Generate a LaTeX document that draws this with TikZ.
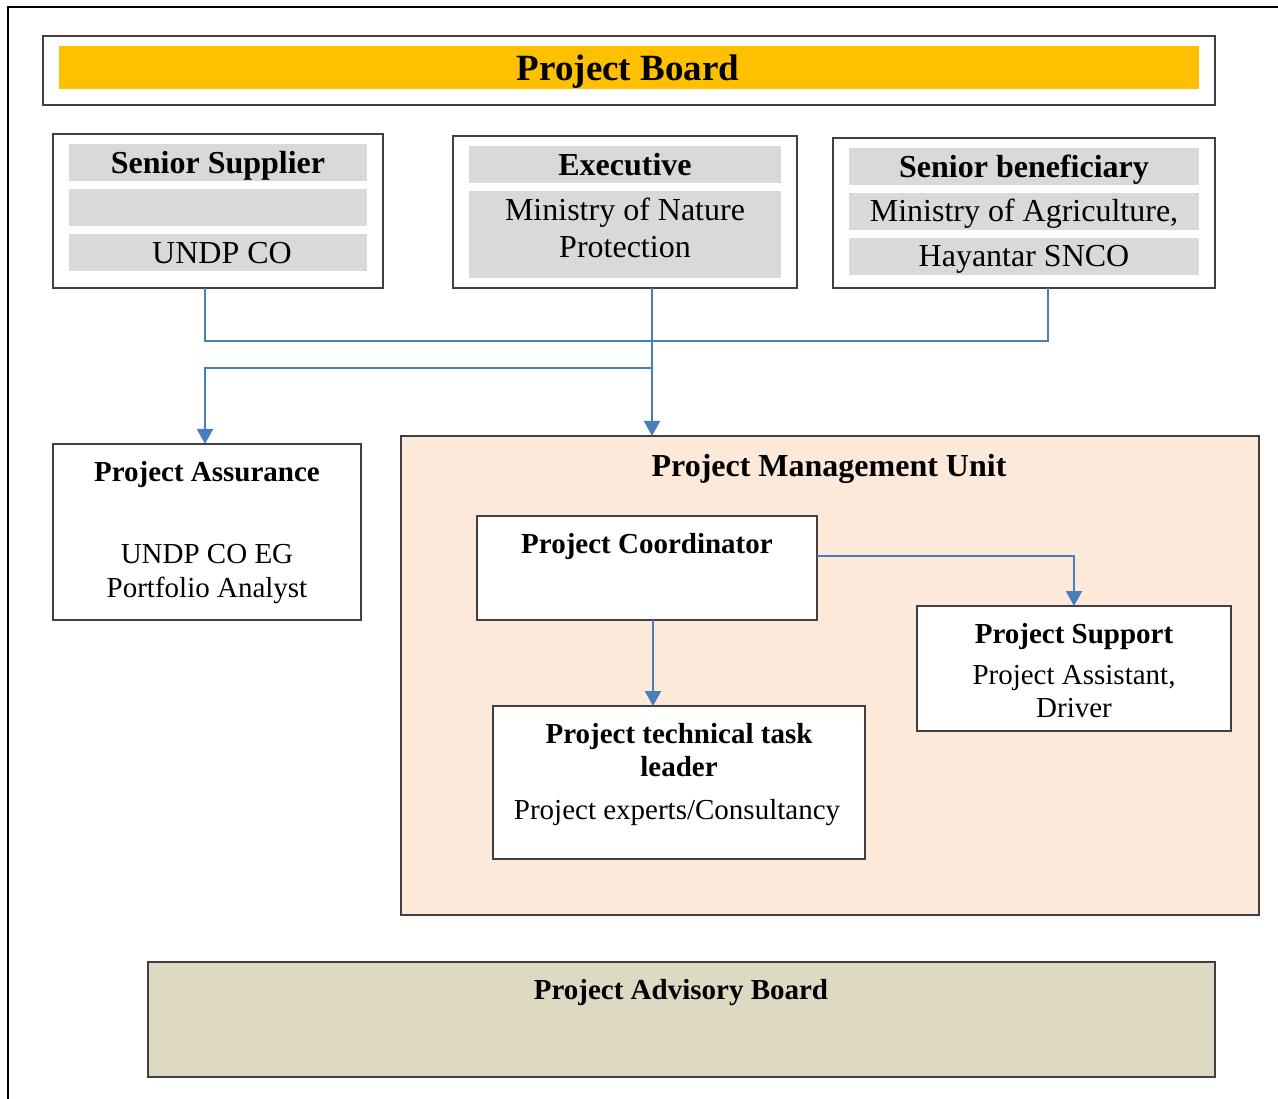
\documentclass[tikz,border=0pt]{standalone}
\usepackage{fontspec}
\setmainfont{Liberation Serif}
\usetikzlibrary{arrows.meta}
\definecolor{gold}{HTML}{FFC000}
\definecolor{band}{HTML}{D9D9D9}
\definecolor{pmufill}{HTML}{FDE9D9}
\definecolor{advfill}{HTML}{DDD9C3}
\definecolor{conncol}{HTML}{4A7EBB}
\definecolor{edge}{HTML}{404040}
\tikzset{
  box/.style={draw=edge, line width=1.4pt, fill=white, inner sep=0pt, outer sep=0pt},
  bandbox/.style={fill=band, draw=none, inner sep=0pt, outer sep=0pt},
  big/.style={font=\fontsize{32}{37}\selectfont, yshift=-10.6pt},
  bigb/.style={font=\fontsize{32}{37}\selectfont\bfseries, yshift=-10.6pt},
  mid/.style={font=\fontsize{29}{34}\selectfont, yshift=-9.6pt},
  midb/.style={font=\fontsize{29}{33}\selectfont\bfseries, yshift=-9.6pt},
  huge/.style={font=\fontsize{37}{40}\selectfont\bfseries, yshift=-12.2pt},
  lbl/.style={inner sep=0pt, anchor=base},
  conn/.style={draw=conncol, line width=2pt},
  tip/.style={-{Triangle[width=16pt,length=15pt]}}
}
\begin{document}
\begin{tikzpicture}[x=1pt,y=-1pt]
\useasboundingbox (0,0) rectangle (1278,1099);
% outer frame (cut at right and bottom)
\draw[line width=2pt] (8,1100) -- (8,7) -- (1280,7);

% Project Board
\node[box, minimum width=1172pt, minimum height=69pt] (pb) at (629,70.5) {};
\node[fill=gold, minimum width=1140pt, minimum height=43pt, inner sep=0pt] (pbbar) at (629,67.5) {};
\node[lbl, huge] (pbt) at (628,68.5) {Project Board};

% Senior Supplier
\node[box, minimum width=330pt, minimum height=154pt] (ss) at (218,211) {};
\node[bandbox, minimum width=298pt, minimum height=37pt] (ss1) at (218,162.5) {};
\node[bandbox, minimum width=298pt, minimum height=37pt] (ss2) at (218,207.5) {};
\node[bandbox, minimum width=298pt, minimum height=37pt] (ss3) at (218,252.5) {};
\node[lbl, bigb] (sst) at (218,163) {Senior Supplier};
\node[lbl, big] (sst3) at (222,253) {UNDP CO};

% Executive
\node[box, minimum width=344pt, minimum height=152pt] (ex) at (625,212) {};
\node[bandbox, minimum width=312pt, minimum height=37pt] (ex1) at (625,164.5) {};
\node[bandbox, minimum width=312pt, minimum height=87pt] (ex2) at (625,234.5) {};
\node[lbl, bigb] (ext) at (625,165) {Executive};
\node[lbl, big] (ext2a) at (625,210) {Ministry of Nature};
\node[lbl, big] (ext2b) at (625,247) {Protection};

% Senior beneficiary
\node[box, minimum width=382pt, minimum height=150pt] (sb) at (1024,213) {};
\node[bandbox, minimum width=350pt, minimum height=37pt] (sb1) at (1024,166.5) {};
\node[bandbox, minimum width=350pt, minimum height=37pt] (sb2) at (1024,211.5) {};
\node[bandbox, minimum width=350pt, minimum height=37pt] (sb3) at (1024,256.5) {};
\node[lbl, bigb] (sbt) at (1024,167) {Senior beneficiary};
\node[lbl, big] (sbt2) at (1024,211) {Ministry of Agriculture,};
\node[lbl, big] (sbt3) at (1024,256) {Hayantar SNCO};

% Project Assurance
\node[box, minimum width=308pt, minimum height=176pt] (pa) at (207,532) {};
\node[lbl, midb] (pat) at (207,472) {Project Assurance};
\node[lbl, mid] (pat2) at (207,554) {UNDP CO EG};
\node[lbl, mid] (pat3) at (207,588) {Portfolio Analyst};

% Project Management Unit
\node[box, fill=pmufill, minimum width=858pt, minimum height=479pt] (pmu) at (830,675.5) {};
\node[lbl, bigb] (pmut) at (829,466) {Project Management Unit};

% Project Coordinator
\node[box, minimum width=340pt, minimum height=104pt] (pc) at (647,568) {};
\node[lbl, midb] (pct) at (647,544) {Project Coordinator};

% Project Support
\node[box, minimum width=314pt, minimum height=125pt] (ps) at (1074,668.5) {};
\node[lbl, midb] (pst) at (1074,634) {Project Support};
\node[lbl, mid] (pst2) at (1074,675) {Project Assistant,};
\node[lbl, mid] (pst3) at (1074,708) {Driver};

% Project technical task leader
\node[box, minimum width=372pt, minimum height=153pt] (tt) at (679,782.5) {};
\node[lbl, midb] (ttt1) at (679,734) {Project technical task};
\node[lbl, midb] (ttt2) at (679,767) {leader};
\node[lbl, mid] (ttt3) at (677,810) {Project experts/Consultancy};

% Project Advisory Board
\node[box, fill=advfill, minimum width=1067pt, minimum height=115pt] (ab) at (681.5,1019.5) {};
\node[lbl, midb] (abt) at (681,990) {Project Advisory Board};

% connectors
\coordinate (busL) at (205,341);
\coordinate (busR) at (1048,341);
\coordinate (mx) at (652,368);
\coordinate (cx) at (653,650);
\draw[conn] (ss.south -| busL) -- (busL) -- (busR) -- (sb.south -| busR);
\draw[conn, tip] (ex.south -| mx) -- (pmu.north -| mx);
\draw[conn, tip] (mx) -| ([xshift=-2pt]pa.north);
\draw[conn, tip] ([yshift=12pt]pc.east) -| (ps.north);
\draw[conn, tip] (pc.south -| cx) -- (tt.north -| cx);
\end{tikzpicture}
\end{document}
